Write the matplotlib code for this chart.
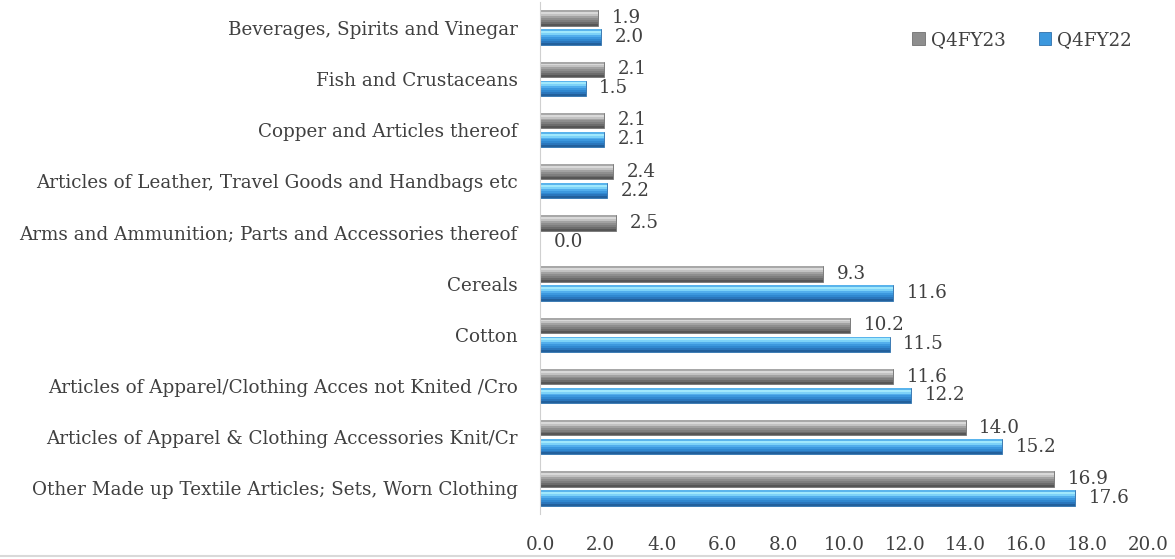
import matplotlib
matplotlib.use("Agg")
import matplotlib.pyplot as plt
import numpy as np

# categories listed bottom -> top (barh draws first at bottom)
categories = [
    "Other Made up Textile Articles; Sets, Worn Clothing",
    "Articles of Apparel & Clothing Accessories Knit/Cr",
    "Articles of Apparel/Clothing Acces not Knited /Cro",
    "Cotton",
    "Cereals",
    "Arms and Ammunition; Parts and Accessories thereof",
    "Articles of Leather, Travel Goods and Handbags etc",
    "Copper and Articles thereof",
    "Fish and Crustaceans",
    "Beverages, Spirits and Vinegar",
]
q4fy23 = [16.9, 14.0, 11.6, 10.2, 9.3, 2.5, 2.4, 2.1, 2.1, 1.9]
q4fy22 = [17.6, 15.2, 12.2, 11.5, 11.6, 0.0, 2.2, 2.1, 1.5, 2.0]
xticks = [0, 2, 4, 6, 8, 10, 12, 14, 16, 18, 20]

plt.rcParams['font.family'] = ['DejaVu Serif']
fs = 13.2
txt = "#404040"
fig = plt.figure(figsize=(11.75, 5.59), dpi=100)
ax = fig.add_axes([0.4596, 0.0805, 0.5174, 0.916])

y = np.arange(len(categories))
h = 0.30
off = 0.185

# bevel shading, strips listed top -> bottom
grey_shades = ["#a8a8a8", "#d9d9d9", "#c2c2c2", "#a2a2a2", "#8e8e8e", "#7e7e7e", "#6c6c6c", "#565656"]
blue_shades = ["#5ab4ec", "#a0e8fc", "#7cd2f8", "#52aeec", "#3c98de", "#3088d0", "#2a76bc", "#22609c"]


def bevel_bars(pos, vals, shades, edge, label):
    n = len(shades)
    sh = h / n
    ax.barh(pos, vals, height=h, color=shades[4], edgecolor=edge, linewidth=0.6, label=label)
    for k, c in enumerate(shades):
        ax.barh(pos + h / 2 - sh * (k + 0.5), vals, height=sh, color=c, linewidth=0)


bevel_bars(y + off, q4fy23, grey_shades, "#707070", "Q4FY23")
bevel_bars(y - off, q4fy22, blue_shades, "#2f70aa", "Q4FY22")

for i in range(len(categories)):
    ax.text(q4fy23[i] + 0.45, y[i] + off, f"{q4fy23[i]:.1f}", va="center", ha="left",
            fontsize=fs, color=txt)
    ax.text(q4fy22[i] + 0.45, y[i] - off, f"{q4fy22[i]:.1f}", va="center", ha="left",
            fontsize=fs, color=txt)

ax.set_yticks(y)
ax.set_yticklabels(categories, fontsize=fs, color=txt)
ax.set_xticks(xticks)
ax.set_xticklabels([f"{t:.1f}" for t in xticks], fontsize=fs, color=txt)
ax.set_xlim(0, 20)
ax.set_ylim(-0.5, 9.5)
ax.tick_params(axis="both", length=0)
ax.tick_params(axis="x", pad=16)
ax.tick_params(axis="y", pad=16)
for s in ["top", "right", "bottom"]:
    ax.spines[s].set_visible(False)
ax.spines["left"].set_color("#d0d0d0")

handles, labels = ax.get_legend_handles_labels()
leg = ax.legend(handles, labels, loc="upper right", bbox_to_anchor=(1.0, 0.975), ncol=2, frameon=False,
                fontsize=fs, handlelength=0.7, handleheight=0.7, columnspacing=1.8, handletextpad=0.3)
for t in leg.get_texts():
    t.set_color(txt)

fig.add_artist(plt.Line2D([0, 1], [0.006, 0.006], color="#d9d9d9", linewidth=1.5))

fig.savefig("out.png", dpi=100)
